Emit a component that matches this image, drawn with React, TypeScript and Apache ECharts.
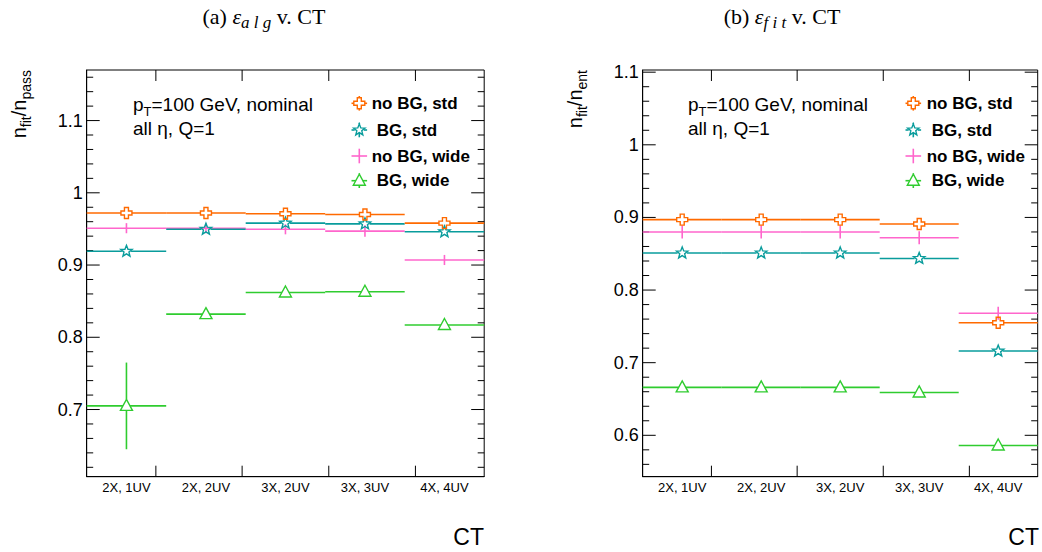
import React, { useEffect, useRef } from "react";
import * as echarts from "echarts";

// ---------- data ----------
const CATEGORIES = ["2X, 1UV", "2X, 2UV", "3X, 2UV", "3X, 3UV", "4X, 4UV"];
const X_TICKS = [0.87, 1.955, 3.045, 4.135];
const SERIES_NAMES = ["no BG, std", "BG, std", "no BG, wide", "BG, wide"];
const COLORS = ["#ff6a00", "#099c9c", "#ff66cc", "#2fcc2f"];
const MARKERS = ["cross", "star", "none", "triangle"];

// panel (a): n_fit / n_pass
const ALG_NOBG_STD = [0.972, 0.972, 0.971, 0.97, 0.958];
const ALG_NOBG_STD_ERR = [0.003, 0.003, 0.003, 0.003, 0.004];
const ALG_BG_STD = [0.919, 0.9495, 0.958, 0.957, 0.946];
const ALG_BG_STD_ERR = [0.004, 0.004, 0.004, 0.004, 0.004];
const ALG_NOBG_WIDE = [0.951, 0.951, 0.9495, 0.947, 0.907];
const ALG_NOBG_WIDE_ERR = [0.007, 0.007, 0.007, 0.008, 0.007];
const ALG_BG_WIDE = [0.705, 0.832, 0.862, 0.863, 0.817];
const ALG_BG_WIDE_ERR = [0.06, 0.005, 0.005, 0.005, 0.005];

// panel (b): n_fit / n_ent
const FIT_NOBG_STD = [0.897, 0.897, 0.897, 0.891, 0.755];
const FIT_NOBG_STD_ERR = [0.004, 0.004, 0.004, 0.004, 0.006];
const FIT_BG_STD = [0.851, 0.851, 0.851, 0.8435, 0.716];
const FIT_BG_STD_ERR = [0.004, 0.004, 0.004, 0.004, 0.005];
const FIT_NOBG_WIDE = [0.88, 0.88, 0.88, 0.872, 0.768];
const FIT_NOBG_WIDE_ERR = [0.009, 0.009, 0.009, 0.009, 0.009];
const FIT_BG_WIDE = [0.666, 0.666, 0.666, 0.659, 0.586];
const FIT_BG_WIDE_ERR = [0.003, 0.003, 0.003, 0.003, 0.004];

const Y_RANGE_ALG = [0.607, 1.17];
const Y_MAJOR_ALG = [0.7, 0.8, 0.9, 1.0, 1.1];
const Y_RANGE_FIT = [0.543, 1.103];
const Y_MAJOR_FIT = [0.6, 0.7, 0.8, 0.9, 1.0, 1.1];

// ---------- styling ----------
const SANS = '"Liberation Sans", Arial, Helvetica, sans-serif';
const SERIF = '"Liberation Serif", "Times New Roman", serif';
const LW = 1.6;

const GRIDS = [
  { left: 86.7, top: 70, width: 397.5, height: 406.7 },
  { left: 642.7, top: 70, width: 395, height: 406.7 },
];

function minorTicks(min: number, max: number): number[] {
  const out: number[] = [];
  const start = Math.ceil(min / 0.02);
  const end = Math.floor(max / 0.02);
  for (let k = start; k <= end; k++) out.push(+(k * 0.02).toFixed(2));
  return out;
}

function markerPoints(kind: string, cx: number, cy: number): number[][] {
  if (kind === "cross") {
    const a = 5.5, b = 2;
    return [
      [cx - b, cy - a], [cx + b, cy - a], [cx + b, cy - b], [cx + a, cy - b],
      [cx + a, cy + b], [cx + b, cy + b], [cx + b, cy + a], [cx - b, cy + a],
      [cx - b, cy + b], [cx - a, cy + b], [cx - a, cy - b], [cx - b, cy - b],
    ];
  }
  if (kind === "star") {
    const R = 6, r = 2.6;
    const pts: number[][] = [];
    for (let k = 0; k < 10; k++) {
      const ang = -Math.PI / 2 + (k * Math.PI) / 5;
      const rad = k % 2 === 0 ? R : r;
      pts.push([cx + rad * Math.cos(ang), cy + rad * Math.sin(ang)]);
    }
    return pts;
  }
  if (kind === "triangle") {
    return [[cx, cy - 6.5], [cx + 6, cy + 4.5], [cx - 6, cy + 4.5]];
  }
  return [];
}

// clipping half-extents of markers: [horizontal, up, down]
function markerClip(kind: string): number[] {
  if (kind === "cross") return [5.5, 5.5, 5.5];
  if (kind === "star") return [4.6, 6, 2.6];
  if (kind === "triangle") return [3.5, 6.5, 4.5];
  return [0, 0, 0];
}

function makeSeries(panel: number, s: number, vals: number[], errs: number[]) {
  const color = COLORS[s];
  const kind = MARKERS[s];
  const [rx, ru, rd] = markerClip(kind);
  return {
    type: "custom",
    name: SERIES_NAMES[s],
    xAxisIndex: panel,
    yAxisIndex: panel,
    clip: false,
    data: vals.map((v, i) => [i, v, errs[i]]),
    renderItem: (params: any, api: any) => {
      const i = api.value(0);
      const v = api.value(1);
      const e = api.value(2);
      const pl = api.coord([i, v]);
      const pr = api.coord([i + 1, v]);
      const pc = api.coord([i + 0.5, v]);
      const pt = api.coord([i + 0.5, v + e]);
      const pb = api.coord([i + 0.5, v - e]);
      const st = { stroke: color, lineWidth: LW, fill: "none" };
      const ch: any[] = [];
      ch.push({ type: "line", shape: { x1: pl[0], y1: pc[1], x2: pc[0] - rx, y2: pc[1] }, style: st });
      ch.push({ type: "line", shape: { x1: pc[0] + rx, y1: pc[1], x2: pr[0], y2: pc[1] }, style: st });
      if (pt[1] < pc[1] - ru) ch.push({ type: "line", shape: { x1: pc[0], y1: pt[1], x2: pc[0], y2: pc[1] - ru }, style: st });
      if (pb[1] > pc[1] + rd) ch.push({ type: "line", shape: { x1: pc[0], y1: pc[1] + rd, x2: pc[0], y2: pb[1] }, style: st });
      if (kind !== "none") {
        ch.push({
          type: "polygon",
          shape: { points: markerPoints(kind, pc[0], pc[1]) },
          style: { stroke: color, lineWidth: 1.4, fill: "none" },
        });
      }
      return { type: "group", children: ch };
    },
  };
}

// frame tick marks drawn through the axes' own scales
function yTickSeries(panel: number, range: number[], major: number[]) {
  const data: number[][] = [];
  minorTicks(range[0], range[1]).forEach((v) => {
    if (!major.some((m) => Math.abs(m - v) < 1e-6)) data.push([0, v, 6.5]);
  });
  major.forEach((v) => data.push([0, v, 13]));
  return {
    type: "custom",
    xAxisIndex: panel,
    yAxisIndex: panel,
    clip: false,
    silent: true,
    data,
    renderItem: (params: any, api: any) => {
      const v = api.value(1);
      const len = api.value(2);
      const l = api.coord([0, v]);
      const r = api.coord([5, v]);
      const st = { stroke: "#000", lineWidth: 1 };
      return {
        type: "group",
        children: [
          { type: "line", shape: { x1: l[0], y1: l[1], x2: l[0] + len, y2: l[1] }, style: st },
          { type: "line", shape: { x1: r[0] - len, y1: r[1], x2: r[0], y2: r[1] }, style: st },
        ],
      };
    },
  };
}

function xTickSeries(panel: number, range: number[]) {
  return {
    type: "custom",
    xAxisIndex: panel,
    yAxisIndex: panel,
    clip: false,
    silent: true,
    data: X_TICKS.map((v) => [v, range[0], 11]),
    renderItem: (params: any, api: any) => {
      const v = api.value(0);
      const len = api.value(2);
      const b = api.coord([v, range[0]]);
      const t = api.coord([v, range[1]]);
      const st = { stroke: "#000", lineWidth: 1 };
      return {
        type: "group",
        children: [
          { type: "line", shape: { x1: b[0], y1: b[1], x2: b[0], y2: b[1] - len }, style: st },
          { type: "line", shape: { x1: t[0], y1: t[1], x2: t[0], y2: t[1] + len }, style: st },
        ],
      };
    },
  };
}

const AXIS_LINE = { show: true, onZero: false, lineStyle: { color: "#000", width: 1 } };

function xAxes() {
  return [0, 1].map((panel) => ({
    type: "value",
    gridIndex: panel,
    min: 0,
    max: 5,
    position: "bottom",
    splitLine: { show: false },
    axisLine: AXIS_LINE,
    axisTick: { show: false },
    axisLabel: {
      show: true,
      customValues: [0.5, 1.5, 2.5, 3.5, 4.5],
      formatter: (v: number) => CATEGORIES[Math.floor(v)],
      margin: 4,
      fontSize: 13,
      fontFamily: SANS,
      color: "#000",
    },
  }));
}

function yAxis(panel: number, range: number[], major: number[]) {
  return {
    type: "value",
    gridIndex: panel,
    min: range[0],
    max: range[1],
    position: "left",
    splitLine: { show: false },
    axisLine: AXIS_LINE,
    axisTick: { show: false },
    axisLabel: {
      show: true,
      customValues: major,
      formatter: (v: number) => String(+v.toFixed(2)),
      margin: 4,
      fontSize: 18,
      fontFamily: SANS,
      color: "#000",
    },
  };
}

function legendGraphics(mx: number, tx: number, rows: number[]) {
  const out: any[] = [];
  for (let s = 0; s < 4; s++) {
    const y = rows[s];
    const color = COLORS[s];
    const kind = MARKERS[s];
    const [rx, ru, rd] = markerClip(kind);
    const st = { stroke: color, lineWidth: LW, fill: "none" };
    out.push({ type: "line", shape: { x1: mx - 7.8, y1: y, x2: mx - rx, y2: y }, style: st });
    out.push({ type: "line", shape: { x1: mx + rx, y1: y, x2: mx + 7.8, y2: y }, style: st });
    out.push({ type: "line", shape: { x1: mx, y1: y - 7.3, x2: mx, y2: y - ru }, style: st });
    out.push({ type: "line", shape: { x1: mx, y1: y + rd, x2: mx, y2: y + 7.3 }, style: st });
    if (kind !== "none") {
      out.push({
        type: "polygon",
        shape: { points: markerPoints(kind, mx, y) },
        style: { stroke: color, lineWidth: 1.4, fill: "none" },
      });
    }
    const name = SERIES_NAMES[s];
    out.push({
      type: "text",
      x: tx + (name.startsWith("BG") ? 5 : 0),
      y,
      style: {
        text: name,
        font: `bold 17px ${SANS}`,
        fill: "#000",
        align: "left",
        verticalAlign: "middle",
      },
    });
  }
  return out;
}

function infoGraphics(x: number) {
  return [
    {
      type: "text",
      x,
      y: 104,
      style: {
        text: "{m|p}{s|T}{m|=100 GeV, nominal}",
        rich: {
          m: { fontSize: 19, fontFamily: SANS, lineHeight: 28, fill: "#000" },
          s: { fontSize: 13, fontFamily: SANS, lineHeight: 13, verticalAlign: "bottom", fill: "#000" },
        },
        align: "left",
        verticalAlign: "middle",
      },
    },
    {
      type: "text",
      x,
      y: 128,
      style: { text: "all η, Q=1", font: `19px ${SANS}`, fill: "#000", align: "left", verticalAlign: "middle" },
    },
  ];
}

function titleGraphic(x: number, label: string, sub: string) {
  return {
    type: "text",
    x,
    y: 16,
    style: {
      text: `{m|${label} }{e|ε}{s|${sub}}{m| v. CT}`,
      rich: {
        m: { fontSize: 22, fontFamily: SERIF, lineHeight: 30, fill: "#000" },
        e: { fontSize: 22, fontFamily: SERIF, fontStyle: "italic", lineHeight: 30, fill: "#000" },
        s: { fontSize: 17, fontFamily: SERIF, fontStyle: "italic", lineHeight: 15, verticalAlign: "bottom", fill: "#000" },
      },
      align: "center",
      verticalAlign: "middle",
    },
  };
}

function yTitleGraphic(x: number, sub2: string) {
  return {
    type: "text",
    x,
    y: 70,
    rotation: Math.PI / 2,
    style: {
      text: `{m|n}{s|fit}{m|/n}{s|${sub2}}`,
      rich: {
        m: { fontSize: 20, fontFamily: SANS, lineHeight: 28, fill: "#000" },
        s: { fontSize: 14, fontFamily: SANS, lineHeight: 14, verticalAlign: "bottom", fill: "#000" },
      },
      align: "right",
      verticalAlign: "middle",
    },
  };
}

function ctGraphic(x: number) {
  return {
    type: "text",
    x,
    y: 537,
    style: { text: "CT", font: `23px ${SANS}`, fill: "#000", align: "right", verticalAlign: "middle" },
  };
}

export default function App() {
  const ref = useRef<HTMLDivElement>(null);
  useEffect(() => {
    if (!ref.current) return;
    const chart = echarts.init(ref.current, null, { renderer: "svg" });
    const LEGEND_ROWS = [103.3, 130, 156, 180.7];
    const option: any = {
      animation: false,
      backgroundColor: "#fff",
      grid: GRIDS.map((g) => ({ ...g, containLabel: false, show: true, borderColor: "#000", borderWidth: 1, backgroundColor: "transparent" })),
      xAxis: xAxes(),
      yAxis: [yAxis(0, Y_RANGE_ALG, Y_MAJOR_ALG), yAxis(1, Y_RANGE_FIT, Y_MAJOR_FIT)],
      series: [
        yTickSeries(0, Y_RANGE_ALG, Y_MAJOR_ALG),
        xTickSeries(0, Y_RANGE_ALG),
        yTickSeries(1, Y_RANGE_FIT, Y_MAJOR_FIT),
        xTickSeries(1, Y_RANGE_FIT),
        makeSeries(0, 3, ALG_BG_WIDE, ALG_BG_WIDE_ERR),
        makeSeries(0, 2, ALG_NOBG_WIDE, ALG_NOBG_WIDE_ERR),
        makeSeries(0, 1, ALG_BG_STD, ALG_BG_STD_ERR),
        makeSeries(0, 0, ALG_NOBG_STD, ALG_NOBG_STD_ERR),
        makeSeries(1, 3, FIT_BG_WIDE, FIT_BG_WIDE_ERR),
        makeSeries(1, 2, FIT_NOBG_WIDE, FIT_NOBG_WIDE_ERR),
        makeSeries(1, 1, FIT_BG_STD, FIT_BG_STD_ERR),
        makeSeries(1, 0, FIT_NOBG_STD, FIT_NOBG_STD_ERR),
      ],
      graphic: [
        titleGraphic(264, "(a)", "a l g"),
        titleGraphic(782, "(b)", "f i t"),
        yTitleGraphic(19, "pass"),
        yTitleGraphic(575, "ent"),
        ctGraphic(484),
        ctGraphic(1039),
        ...infoGraphics(133),
        ...infoGraphics(688),
        ...legendGraphics(359.3, 371.7, LEGEND_ROWS),
        ...legendGraphics(913.3, 926.7, LEGEND_ROWS),
      ],
    };
    chart.setOption(option);
    return () => chart.dispose();
  }, []);
  return (
    <div
      ref={ref}
      style={{ position: "fixed", left: 0, top: 0, width: 1042, height: 552, background: "#fff" }}
    />
  );
}
